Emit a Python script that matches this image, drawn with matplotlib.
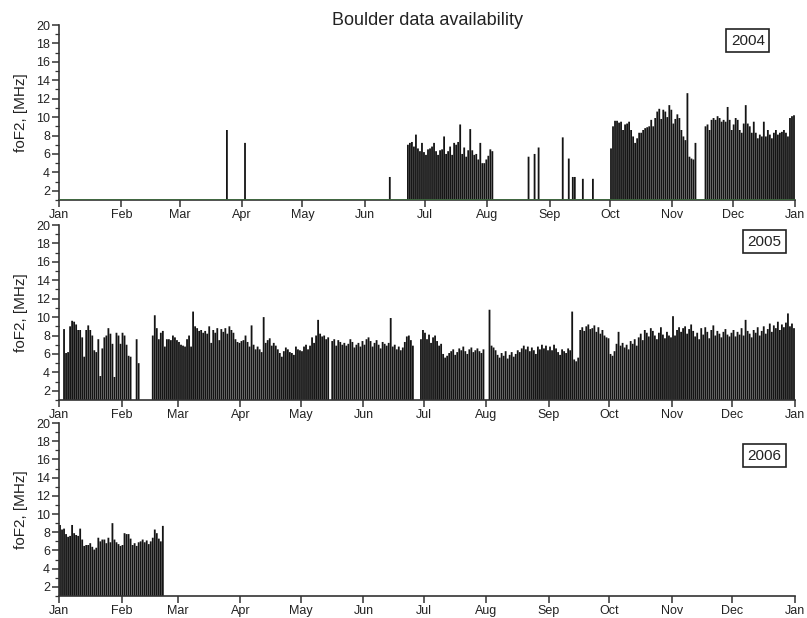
"""Boulder foF2 data availability, 2004-2006: daily maxima drawn as bars from the axis floor."""

import numpy as np
import matplotlib
matplotlib.use("Agg")
import matplotlib.pyplot as plt
import matplotlib.dates as mdates
from matplotlib.ticker import MultipleLocator

plt.rcParams["font.family"] = ["Liberation Sans", "DejaVu Sans"]

nan = np.nan

# ---- 2004: day offsets from Jan 1 and daily max foF2 [MHz]
SPIKES_2004_DAY = [83, 92, 164, 233, 236, 238, 250, 253, 255, 256, 260, 265]
SPIKES_2004_VAL = [8.6, 7.2, 3.5, 5.7, 6.0, 6.7, 7.8, 5.5, 3.5, 3.5, 3.3, 3.3]

JUL_2004_START = 173
JUL_2004 = [7.0, 7.2, 7.3, 6.8, 8.1, 6.6, 6.3, 7.2, 6.2, 5.9, 6.5, 6.6, 6.8, 7.2, 6.3,
            5.9, 6.4, 6.5, 7.9, 6.0, 6.3, 6.8, 5.9, 7.2, 7.0, 7.3, 9.2, 6.0, 6.7, 5.7,
            6.4, 8.7, 6.4, 5.9, 6.0, 5.4, 7.2, 5.0, 5.0, 5.4, 5.8, 6.5, 6.3]

OCT_2004_START = 274
OCT_2004 = [6.6, 9.0, 9.6, 9.6, 9.4, 9.5, 8.6, 9.2, 9.3, 9.5, 8.6, 7.9, 7.2, 7.7, 8.3,
            8.3, 8.6, 8.8, 8.9, 9.0, 9.7, 9.0, 9.9, 10.6, 10.9, 9.8, 10.8, 10.6, 10.0, 11.3,
            10.8, 9.3, 9.8, 10.3, 9.9, 8.6, 7.9, 7.5, 12.6, 5.7, 5.5, 5.4, 7.2]

NOV_2004_START = 321
NOV_2004 = [9.0, 9.2, 8.6, 9.7, 9.9, 9.7, 10.1, 9.9, 9.5, 9.7, 9.5, 11.1, 9.7, 8.6, 9.2,
            9.9, 9.7, 8.6, 8.3, 9.3, 11.3, 9.3, 9.0, 8.3, 9.5, 8.3, 7.7, 8.1, 7.9, 9.5,
            7.9, 8.6, 8.1, 7.7, 8.3, 8.6, 8.1, 8.3, 8.4, 8.6, 8.3, 7.9, 9.9, 10.1, 10.2]

# ---- 2005: daily max foF2 per month [MHz], nan = no data
JAN_2005 = [nan, nan, 8.7, 6.1, 6.2, 9.0, 9.6, 9.5, 9.2, 8.6, 8.6, 7.8, 5.7, 8.6, 9.1, 8.6,
            8.0, 6.4, 6.2, 7.6, 3.6, 6.6, 7.8, 8.0, 8.8, 8.2, 7.1, 3.5, 8.3, 8.0, 7.1]
FEB_2005 = [8.3, 8.0, 7.0, 5.8, 5.7, nan, nan, 7.6, 5.0, nan, nan, nan, nan, nan, nan, 8.0,
            10.2, 8.8, 7.6, 8.3, 8.5, 6.8, 7.6, 7.6, 7.5, 8.0, 7.8, 7.5]
MAR_2005 = [7.3, 7.0, 6.9, 6.8, 7.6, 8.0, 6.8, 10.6, 9.0, 8.8, 8.5, 8.6, 8.3, 8.5, 8.2, 9.0,
            7.2, 8.6, 8.3, 8.8, 7.5, 8.7, 8.4, 8.8, 8.2, 9.0, 8.6, 8.3, 7.6, 7.3, 7.2]
APR_2005 = [7.4, 7.5, 8.0, 7.3, 6.8, 9.1, 7.0, 6.5, 6.8, 6.5, 6.2, 10.0, 7.2, 7.5, 7.7, 6.9,
            7.2, 6.9, 6.5, 6.1, 5.7, 6.3, 6.7, 6.5, 6.2, 6.1, 5.9, 6.8, 6.5, 6.4]
MAY_2005 = [6.3, 6.8, 7.0, 6.5, 6.9, 7.8, 7.2, 8.0, 9.7, 8.2, 7.9, 8.0, 7.6, 7.8, nan, 7.4,
            7.6, 6.9, 7.5, 7.3, 7.0, 7.2, 6.9, 7.1, 7.6, 7.3, 6.7, 7.0, 7.2, 6.8, 7.4]
JUN_2005 = [7.0, 7.6, 7.8, 7.4, 6.8, 7.2, 7.5, 7.0, 6.6, 7.3, 7.1, 6.9, 7.2, 9.9, 6.8, 7.0,
            6.5, 6.8, 6.4, 6.7, 7.3, 7.9, 8.0, 7.5, 6.9, nan, nan, nan, 7.6, 8.6]
JUL_2005 = [8.3, 7.6, 8.1, 7.2, 7.8, 8.0, 7.4, 6.9, 7.1, 6.0, 5.6, 5.8, 6.1, 6.3, 6.5, 5.9,
            6.2, 6.6, 6.4, 6.8, 6.3, 6.0, 6.5, 6.7, 6.2, 6.4, 6.6, 6.3, 6.1, 6.5, nan]
AUG_2005 = [nan, 10.8, 6.9, 6.7, 6.4, 5.9, 5.6, 6.1, 5.8, 6.3, 5.5, 5.9, 6.2, 5.7, 6.0, 6.4,
            6.2, 6.6, 6.9, 6.5, 6.8, 6.3, 6.7, 6.4, 6.0, 6.8, 6.5, 7.0, 6.6, 6.9, 6.4]
SEP_2005 = [6.8, 6.4, 7.0, 6.6, 6.2, 5.9, 6.5, 6.3, 6.1, 6.6, 6.4, 10.6, 5.4, 5.2, 5.6, 8.6,
            8.9, 8.5, 9.0, 9.2, 8.7, 8.8, 9.1, 8.4, 8.9, 8.2, 8.6, 8.0, 7.8, 7.7]
OCT_2005 = [6.0, 5.8, 6.3, 7.1, 8.4, 6.9, 7.2, 6.7, 7.0, 6.5, 7.4, 7.1, 7.6, 6.9, 7.8, 8.2,
            7.5, 8.6, 8.3, 7.9, 8.8, 8.5, 8.0, 7.6, 8.3, 8.9, 8.1, 7.7, 8.4, 8.0, 7.8]
NOV_2005 = [10.1, 8.0, 8.6, 8.9, 8.4, 8.8, 9.0, 8.2, 8.7, 9.2, 8.5, 7.9, 8.3, 7.6, 8.8, 8.1,
            8.9, 8.4, 7.7, 8.6, 9.1, 8.0, 8.5, 8.2, 7.8, 8.4, 8.7, 8.1, 7.9, 8.3]
DEC_2005 = [8.6, 7.9, 8.4, 8.1, 8.8, 8.0, 9.7, 8.5, 8.2, 7.8, 8.6, 8.3, 8.9, 8.0, 8.5, 9.0,
            8.2, 8.7, 9.3, 8.4, 9.1, 8.8, 9.5, 8.6, 9.2, 8.9, 9.4, 10.4, 9.0, 9.3, 8.8]

# ---- 2006: Jan 1 onward
JANFEB_2006 = [8.8, 8.3, 8.4, 7.8, 7.5, 7.6, 8.8, 7.9, 7.7, 7.6, 8.4, 7.2, 6.5, 6.6, 6.6,
               6.8, 6.4, 6.1, 6.3, 7.4, 7.0, 7.2, 7.2, 6.8, 7.4, 6.9, 9.0, 7.2, 6.9, 6.7,
               6.5, 6.6, 7.9, 7.8, 7.8, 7.3, 6.6, 6.8, 6.5, 6.9, 7.0, 7.2, 6.9, 7.1, 6.7,
               7.0, 7.4, 8.3, 7.9, 7.3, 7.0, 8.7]

FLOOR = 1.0
BAR_COLOR = "#141414"
TEXT_COLOR = "#222222"


def series(start, vals):
    return np.arange(start, start + len(vals)), np.array(vals, dtype=float)


def draw_days(ax, year, days, vals):
    ok = ~np.isnan(vals)
    x0 = mdates.date2num(np.datetime64(f"{year}-01-01"))
    bars = ax.bar(x0 + days[ok] + 0.5, vals[ok] - FLOOR, bottom=FLOOR, width=0.9,
                  color=BAR_COLOR, linewidth=0)
    for b in bars:
        b.set_snap(False)


months_2005 = [JAN_2005, FEB_2005, MAR_2005, APR_2005, MAY_2005, JUN_2005,
               JUL_2005, AUG_2005, SEP_2005, OCT_2005, NOV_2005, DEC_2005]
vals_2005 = np.concatenate([np.array(m, dtype=float) for m in months_2005])

data = {
    2004: [
        (np.array(SPIKES_2004_DAY), np.array(SPIKES_2004_VAL)),
        series(JUL_2004_START, JUL_2004),
        series(OCT_2004_START, OCT_2004),
        series(NOV_2004_START, NOV_2004),
    ],
    2005: [(np.arange(len(vals_2005)), vals_2005)],
    2006: [series(0, JANFEB_2006)],
}

fig = plt.figure(figsize=(8.07, 6.18), dpi=100)
left, width = 59 / 807, 736 / 807
boxes = {
    2004: (1 - 200 / 618, 175 / 618, (0.936, 0.91)),
    2005: (1 - 400 / 618, 175 / 618, (0.958, 0.905)),
    2006: (1 - 596 / 618, 173 / 618, (0.958, 0.81)),
}

for year, (bottom, height, label_pos) in boxes.items():
    ax = fig.add_axes([left, bottom, width, height])
    for days, vals in data[year]:
        draw_days(ax, year, days, vals)
    if year == 2004:
        ax.axhline(FLOOR, color="#3d6b3d", lw=1.2, zorder=3)

    ax.set_xlim(mdates.date2num(np.datetime64(f"{year}-01-01")),
                mdates.date2num(np.datetime64(f"{year + 1}-01-01")))
    ax.set_ylim(FLOOR, 20)
    ax.xaxis.set_major_locator(mdates.MonthLocator())
    ax.xaxis.set_major_formatter(mdates.DateFormatter("%b"))
    ax.yaxis.set_major_locator(MultipleLocator(2))
    ax.yaxis.set_minor_locator(MultipleLocator(1))
    ax.set_yticks(np.arange(2, 21, 2))

    for side in ["top", "right"]:
        ax.spines[side].set_visible(False)
    for side in ["left", "bottom"]:
        ax.spines[side].set_color("#333333")
        ax.spines[side].set_linewidth(1.2)
    ax.tick_params(which="major", length=5, width=1.1, color="#333333",
                   labelsize=9, labelcolor=TEXT_COLOR, pad=1.5)
    ax.tick_params(which="minor", length=3, width=0.9, color="#333333")
    ax.tick_params(axis="x", which="minor", length=0)

    ax.set_ylabel("foF2, [MHz]", fontsize=11, color=TEXT_COLOR, labelpad=6)
    ax.text(*label_pos, str(year), transform=ax.transAxes, ha="center", va="center",
            fontsize=11, color=TEXT_COLOR,
            bbox=dict(boxstyle="square,pad=0.3", fc="white", ec="#222222", lw=1.2))

fig.text(0.53, 0.967, "Boulder data availability", ha="center", va="center",
         fontsize=13, color=TEXT_COLOR)

fig.savefig("out.png", dpi=100)
